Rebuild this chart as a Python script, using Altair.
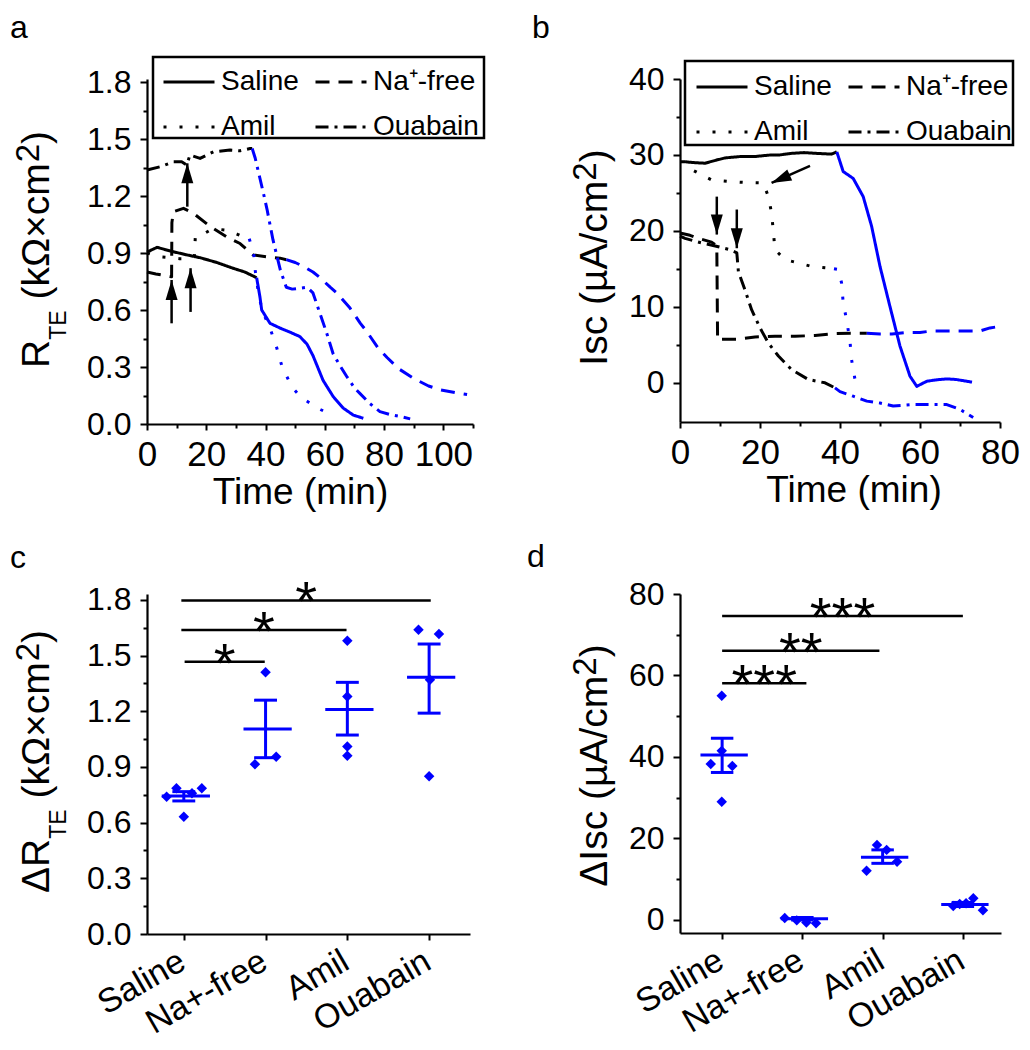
import json
import altair as alt
import pandas as pd

FONT = "Liberation Sans"
BLUE = "#0000FF"

CONDITIONS = ["Saline", "Na\u207a-free", "Amil", "Ouabain"]
CATEGORIES = ["Saline", "Na+-free", "Amil", "Ouabain"]
DASHES = [[1, 0], [14, 9], [3, 13], [13, 6, 3, 6]]

# ---------------- panel a : R_TE vs time ----------------
a_saline_t = [0, 3.4, 8, 13.5, 18, 23.6, 29, 33, 37, 38.1, 38.7, 41.5, 44.9, 48, 51.6, 54, 56, 59.4, 62.8, 66.2, 69.6, 73]
a_saline_v = [0.905, 0.93, 0.91, 0.89, 0.875, 0.85, 0.82, 0.80, 0.77, 0.67, 0.60, 0.53, 0.505, 0.485, 0.46, 0.42, 0.36, 0.23, 0.145, 0.084, 0.047, 0.03]
a_saline_switch = 37

a_na_t = [0, 3, 6.5, 8.3, 8.4, 8.9, 12.3, 15.6, 21.3, 26.9, 31.4, 35.8, 40.4, 44.9, 47, 50, 52.7, 56, 58.4, 61.8, 64, 68.5, 72, 74, 78, 81, 85, 90, 95, 99, 104, 108]
a_na_v = [0.80, 0.79, 0.78, 0.775, 1.06, 1.117, 1.135, 1.11, 1.04, 0.985, 0.95, 0.89, 0.88, 0.873, 0.865, 0.85, 0.83, 0.80, 0.77, 0.72, 0.69, 0.61, 0.53, 0.49, 0.40, 0.35, 0.29, 0.24, 0.20, 0.18, 0.165, 0.155]
a_na_switch = 47

a_amil_t = [0, 4.4, 8, 11, 14, 16.0, 16.3, 18.5, 21.3, 24, 26.9, 30.3, 33.6, 34.5, 36, 36.5, 37.5, 38.8, 41.5, 43.8, 45.6, 48.9, 52, 55, 58, 61]
a_amil_v = [0.90, 0.88, 0.875, 0.87, 0.87, 0.88, 0.985, 0.995, 1.02, 1.025, 1.02, 1.0, 0.977, 0.975, 0.90, 0.81, 0.70, 0.60, 0.505, 0.40, 0.30, 0.195, 0.14, 0.11, 0.08, 0.058]
a_amil_switch = 34.5

a_oua_t = [0, 4.4, 8.9, 11.7, 13.4, 14.5, 17.9, 22.4, 28, 31.4, 34.8, 35.5, 36.5, 38, 39.5, 40.5, 42.5, 45, 47, 49, 51.6, 54, 56, 58.4, 60.6, 62.8, 65, 67.4, 70, 71.9, 75, 78.6, 82, 85.4, 88.8]
a_oua_v = [1.337, 1.354, 1.38, 1.38, 1.363, 1.416, 1.398, 1.433, 1.442, 1.438, 1.45, 1.45, 1.40, 1.30, 1.20, 1.13, 0.97, 0.81, 0.72, 0.71, 0.715, 0.72, 0.69, 0.58, 0.48, 0.37, 0.31, 0.25, 0.19, 0.16, 0.11, 0.065, 0.05, 0.04, 0.027]
a_oua_switch = 35.5

a_arrow_t = [8.3, 14.7, 13.6]
a_arrow_tail = [0.53, 0.59, 1.144]
a_arrow_tip = [0.758, 0.82, 1.372]

# ---------------- panel b : Isc vs time ----------------
b_saline_t = [0, 1.25, 3, 6.25, 9, 11.25, 15.4, 19, 22.9, 25, 27.9, 31, 34, 37.9, 39.2, 40.8, 43.3, 45.8, 47.9, 50, 52.5, 55, 57.5, 59.2, 61.7, 64, 66.7, 69, 71.7, 73]
b_saline_v = [29.1, 29.1, 29.0, 28.9, 29.3, 29.6, 29.8, 29.8, 30.0, 30.0, 30.2, 30.3, 30.2, 30.1, 30.4, 27.8, 26.9, 24.5, 20.6, 15.3, 10.0, 4.8, 0.83, -0.5, 0.17, 0.35, 0.48, 0.4, 0.17, 0.05]
b_saline_switch = 39.2

b_na_t = [0, 2.5, 4.6, 7.9, 9.2, 9.4, 10, 14.2, 18.75, 23.75, 28.75, 33.75, 38.75, 43, 46.7, 50, 53, 57, 60, 63, 66, 70, 75, 77.5, 80]
b_na_v = [19.7, 19.4, 19.0, 18.5, 18.0, 5.6, 5.7, 5.7, 6.0, 6.1, 6.1, 6.2, 6.45, 6.5, 6.5, 6.4, 6.4, 6.6, 6.6, 6.8, 6.8, 6.8, 6.8, 7.2, 7.4]
b_na_switch = 46.7

b_amil_t = [3.5, 7.9, 12.1, 16.7, 20.8, 22.1, 22.9, 23.3, 23.75, 26.25, 29.6, 32.9, 36.7, 38.5, 39.6, 40.4, 40.8, 41.7, 42.5, 42.9, 43.75]
b_amil_v = [27.9, 26.7, 26.5, 26.35, 26.3, 24.5, 22.3, 20.1, 17.5, 16.2, 15.75, 15.3, 15.1, 15.0, 14.9, 13.1, 10.5, 8.1, 5.4, 3.0, 0.4]
b_amil_switch = 38.5

b_oua_t = [0, 1.25, 5.4, 9.6, 12.5, 14.2, 14.6, 16.25, 17.9, 20, 22.1, 24.6, 27.9, 32.1, 36.25, 38.75, 40, 43.3, 46.7, 50, 53.3, 58.3, 62.5, 66.7, 70, 73.3]
b_oua_v = [19.3, 19.0, 18.4, 17.9, 17.5, 17.1, 14.6, 12.2, 9.6, 7.2, 5.2, 3.5, 1.7, 0.4, -0.04, -0.7, -1.2, -1.8, -2.45, -2.7, -3.1, -2.9, -2.9, -2.9, -3.55, -4.6]
b_oua_switch = 38.75

b_down_t = [9.2, 14.2]
b_down_tail = [24.5, 22.8]
b_down_tip = [19.5, 17.7]
b_diag_tail_t, b_diag_tail_v = [32.5], [28.55]
b_diag_tip_t, b_diag_tip_v = [22.9], [26.3]

# ---------------- panel c : delta R_TE ----------------
c_pts_x = [0.79, 0.91, 1.0, 1.10, 1.22, 1.87, 2.0, 2.13, 3.0, 3.0, 3.0, 3.0, 3.87, 4.12, 4.01, 4.0]
c_pts_v = [0.74, 0.785, 0.632, 0.758, 0.785, 0.915, 1.41, 0.955, 1.58, 1.28, 1.01, 0.96, 1.64, 1.617, 1.37, 0.85]
c_mean = [0.743, 1.105, 1.21, 1.383]
c_lo = [0.717, 0.95, 1.072, 1.19]
c_hi = [0.767, 1.26, 1.356, 1.5625]
c_sig_x1 = [0.97, 0.97, 1.01]
c_sig_x2 = [4.02, 2.99, 1.99]
c_sig_y = [1.797, 1.638, 1.467]
c_sig_lab = ["*", "*", "*"]

# ---------------- panel d : delta Isc ----------------
d_pts_x = [0.995, 0.858, 1.127, 0.995, 0.995, 1.78, 1.93, 2.05, 2.17, 2.80, 2.93, 3.05, 3.18, 3.88, 3.96, 4.04, 4.13, 4.25]
d_pts_v = [55.05, 38.3, 37.8, 29.0, 41.5, 0.5, -0.1, -0.6, -0.8, 12.1, 18.4, 17.2, 14.3, 3.4, 3.9, 4.1, 5.3, 2.4]
d_mean = [40.5, 0.3, 15.4, 3.8]
d_lo = [36.2, 0.0, 13.9, 3.3]
d_hi = [44.6, 0.6, 17.2, 4.3]
d_sig_x1 = [1.0, 1.0, 1.0]
d_sig_x2 = [4.0, 2.96, 2.05]
d_sig_y = [74.6, 66.1, 58.1]
d_sig_lab = ["***", "**", "***"]

# ---------------- helpers ----------------
ARIAL = {'R': .722, 'Δ': .668, 'T': .611, 'E': .667, ' ': .278, '(': .333, 'k': .5,
         'Ω': .768, '×': .584, 'c': .5, 'm': .833, '2': .556, ')': .333, 'I': .278,
         's': .5, 'µ': .576, 'A': .667, '/': .278}


def text_width(s, fs):
    return sum(ARIAL.get(ch, 0.556) for ch in s) * fs


ONE = pd.DataFrame({"k": [0]})
AX = dict(domainColor="black", domainWidth=2.2, tickColor="black", tickWidth=2,
          labelColor="black", labelFont=FONT, grid=False, titleColor="black",
          labelFlush=False, labelOverlap=False)


def value_text(txt, x, y, size, angle=0, align="left"):
    return alt.Chart(ONE).mark_text(text=txt, font=FONT, fontSize=size, angle=angle,
                                    align=align, baseline="alphabetic", color="black"
                                    ).encode(x=alt.value(x), y=alt.value(y))


def y_title(pieces, center):
    total = sum(g + text_width(t, fs) for t, fs, bx, g in pieces)
    y = center + total / 2
    layers = []
    for t, fs, bx, g in pieces:
        y -= g
        layers.append(value_text(t, bx, y, fs, angle=270))
        y -= text_width(t, fs)
    return layers


def series_rows(cond, ts, vs, switch):
    rows = []
    for i, (t, v) in enumerate(zip(ts, vs)):
        if t <= switch:
            rows.append(dict(cond=cond, phase="pre", t=t, v=v, idx=i))
        if t >= switch:
            rows.append(dict(cond=cond, phase="post", t=t, v=v, idx=i))
    return rows


def minor_layer(xs, ys, xdom, ydom, xminor, yminor):
    axx = alt.Axis(values=xminor, orient="bottom", tickSize=4, labels=False, domain=False,
                   title=None, grid=False, tickColor="black", tickWidth=2) if xminor else None
    axy = alt.Axis(values=yminor, orient="left", tickSize=4, labels=False, domain=False,
                   title=None, grid=False, tickColor="black", tickWidth=2)
    df = pd.DataFrame({"x": [xdom[0]], "y": [ydom[0]]})
    return alt.Chart(df).mark_point(opacity=0).encode(
        x=alt.X("x:Q", scale=xs, axis=axx), y=alt.Y("y:Q", scale=ys, axis=axy))


def legend_box(x1, x2, y1, y2):
    return alt.Chart(ONE).mark_rect(fillOpacity=0, stroke="black", strokeWidth=2.5).encode(
        x=alt.value(x1), x2=alt.value(x2), y=alt.value(y1), y2=alt.value(y2))


ARROW_UP = "M0,-1L-0.6,1L0.6,1Z"
ARROW_DOWN = "M0,1L-0.6,-1L0.6,-1Z"


def time_panel(rows, xdom, ydom, w, h, xvals, xminor, yvals, yminor, yfmt, title_x,
               legend_y, box, extra_layers, title_layers, letter):
    xs = alt.Scale(domain=xdom, nice=False, zero=False)
    ys = alt.Scale(domain=ydom, nice=False, zero=False)
    df = pd.DataFrame(rows)
    lines = alt.Chart(df).mark_line(strokeWidth=3, strokeJoin="round").encode(
        x=alt.X("t:Q", scale=xs, axis=alt.Axis(values=xvals, orient="bottom", tickSize=6,
                                                labelPadding=7, labelFontSize=35,
                                                title="Time (min)", titleFont=FONT,
                                                titleFontSize=37, titleFontWeight="normal",
                                                titlePadding=2, titleX=title_x, **AX)),
        y=alt.Y("v:Q", scale=ys, axis=alt.Axis(values=yvals, orient="left", format=yfmt,
                                                tickSize=7, labelPadding=9, labelFontSize=32,
                                                title=None, **AX)),
        color=alt.Color("phase:N", scale=alt.Scale(domain=["pre", "post"], range=["#000000", BLUE]),
                        legend=None),
        strokeDash=alt.StrokeDash("cond:N", scale=alt.Scale(domain=CONDITIONS, range=DASHES),
                                  legend=alt.Legend(orient="none", legendX=15, legendY=legend_y,
                                                    columns=2, direction="horizontal",
                                                    title=None, symbolType="stroke",
                                                    symbolSize=2601, symbolStrokeWidth=3,
                                                    symbolStrokeColor="black", labelFont=FONT,
                                                    labelFontSize=28, labelColor="black",
                                                    padding=0, rowPadding=4, columnPadding=10,
                                                    labelOffset=5, labelLimit=400)),
        order=alt.Order("idx:Q"),
    )
    minor = minor_layer(xs, ys, xdom, ydom, xminor, yminor)
    extras = [f(xs, ys) for f in extra_layers]
    layers = [lines, minor] + extras + [legend_box(*box)] + title_layers + [letter]
    return alt.layer(*layers).properties(width=w, height=h).resolve_axis(x="independent", y="independent")


def up_arrows(ts, tails, tips):
    df = pd.DataFrame({"t": ts, "tail": tails, "tip": tips})

    def make(xs, ys):
        shaft = alt.Chart(df).mark_rule(strokeWidth=2.5, color="black").encode(
            x=alt.X("t:Q", scale=xs, axis=None), y=alt.Y("tail:Q", scale=ys, axis=None), y2="tip:Q")
        head = alt.Chart(df).mark_point(shape=ARROW_UP, filled=True, size=400, color="black",
                                        strokeWidth=0, opacity=1, yOffset=10).encode(
            x=alt.X("t:Q", scale=xs, axis=None), y=alt.Y("tip:Q", scale=ys, axis=None))
        return alt.layer(shaft, head)
    return make


def down_arrows(ts, tails, tips):
    df = pd.DataFrame({"t": ts, "tail": tails, "tip": tips})

    def make(xs, ys):
        shaft = alt.Chart(df).mark_rule(strokeWidth=2.5, color="black").encode(
            x=alt.X("t:Q", scale=xs, axis=None), y=alt.Y("tail:Q", scale=ys, axis=None), y2="tip:Q")
        head = alt.Chart(df).mark_point(shape=ARROW_DOWN, filled=True, size=400, color="black",
                                        strokeWidth=0, opacity=1, yOffset=-10).encode(
            x=alt.X("t:Q", scale=xs, axis=None), y=alt.Y("tip:Q", scale=ys, axis=None))
        return alt.layer(shaft, head)
    return make


def diag_arrow(tt, tv, pt, pv):
    df = pd.DataFrame({"tt": tt, "tv": tv, "pt": pt, "pv": pv})

    def make(xs, ys):
        shaft = alt.Chart(df).mark_rule(strokeWidth=2.5, color="black").encode(
            x=alt.X("tt:Q", scale=xs, axis=None), x2="pt:Q",
            y=alt.Y("tv:Q", scale=ys, axis=None), y2="pv:Q")
        head = alt.Chart(df).mark_point(shape=ARROW_UP, filled=True, size=400, color="black",
                                        strokeWidth=0, opacity=1, angle=246, xOffset=9,
                                        yOffset=-4).encode(
            x=alt.X("pt:Q", scale=xs, axis=None), y=alt.Y("pv:Q", scale=ys, axis=None))
        return alt.layer(shaft, head)
    return make


def cat_panel(pts_x, pts_v, mean, lo, hi, sx1, sx2, sy, slab, xdom, ydom, w, h,
              yvals, yminor, yfmt, title_layers, letter):
    xs = alt.Scale(domain=xdom, nice=False, zero=False)
    ys = alt.Scale(domain=ydom, nice=False, zero=False)
    cats = list(range(1, len(CATEGORIES) + 1))
    pts = pd.DataFrame({"x": pts_x, "v": pts_v})
    st = pd.DataFrame({"cat": cats, "mean": mean, "lo": lo, "hi": hi})
    st["m1"] = st["cat"] - 0.27
    st["m2"] = st["cat"] + 0.32
    caps = pd.DataFrame({"c1": [c - 0.14 for c in cats] * 2, "c2": [c + 0.14 for c in cats] * 2,
                         "y": list(hi) + list(lo)})
    sig = pd.DataFrame({"x1": sx1, "x2": sx2, "y": sy, "lab": slab})
    sig["xm"] = (sig["x1"] + sig["x2"]) / 2
    label_expr = json.dumps(CATEGORIES) + "[datum.value - 1]"
    points = alt.Chart(pts).mark_point(shape="diamond", filled=True, size=110, color=BLUE,
                                       opacity=1).encode(
        x=alt.X("x:Q", scale=xs, axis=alt.Axis(values=cats, orient="bottom", labelExpr=label_expr,
                                                labelAngle=330, labelAlign="right",
                                                labelBaseline="top", labelOffset=-10,
                                                labelPadding=4, labelFontSize=34, tickSize=6,
                                                title=None, labelBound=False, **AX)),
        y=alt.Y("v:Q", scale=ys, axis=alt.Axis(values=yvals, orient="left", format=yfmt,
                                                tickSize=7, labelPadding=9, labelFontSize=32,
                                                title=None, **AX)),
    )
    ebar = alt.Chart(st).mark_rule(strokeWidth=3, color=BLUE).encode(
        x=alt.X("cat:Q", scale=xs, axis=None), y=alt.Y("lo:Q", scale=ys, axis=None), y2="hi:Q")
    mline = alt.Chart(st).mark_rule(strokeWidth=3, color=BLUE).encode(
        x=alt.X("m1:Q", scale=xs, axis=None), x2="m2:Q", y=alt.Y("mean:Q", scale=ys, axis=None))
    cap = alt.Chart(caps).mark_rule(strokeWidth=3, color=BLUE).encode(
        x=alt.X("c1:Q", scale=xs, axis=None), x2="c2:Q", y=alt.Y("y:Q", scale=ys, axis=None))
    srule = alt.Chart(sig).mark_rule(strokeWidth=2.5, color="black").encode(
        x=alt.X("x1:Q", scale=xs, axis=None), x2="x2:Q", y=alt.Y("y:Q", scale=ys, axis=None))
    stars = alt.Chart(sig).mark_text(font=FONT, fontSize=56, dy=20, color="black", align="center",
                                     baseline="alphabetic").encode(
        x=alt.X("xm:Q", scale=xs, axis=None), y=alt.Y("y:Q", scale=ys, axis=None), text="lab:N")
    minor = minor_layer(xs, ys, xdom, ydom, None, yminor)
    layers = [points, minor, ebar, mline, cap, srule, stars] + title_layers + [letter]
    return alt.layer(*layers).properties(width=w, height=h).resolve_axis(x="independent", y="independent")


# ---------------- build panels ----------------
rows_a = (series_rows(CONDITIONS[0], a_saline_t, a_saline_v, a_saline_switch)
          + series_rows(CONDITIONS[1], a_na_t, a_na_v, a_na_switch)
          + series_rows(CONDITIONS[2], a_amil_t, a_amil_v, a_amil_switch)
          + series_rows(CONDITIONS[3], a_oua_t, a_oua_v, a_oua_switch))
rows_b = (series_rows(CONDITIONS[0], b_saline_t, b_saline_v, b_saline_switch)
          + series_rows(CONDITIONS[1], b_na_t, b_na_v, b_na_switch)
          + series_rows(CONDITIONS[2], b_amil_t, b_amil_v, b_amil_switch)
          + series_rows(CONDITIONS[3], b_oua_t, b_oua_v, b_oua_switch))

FM, FSUB, FSUP = 39, 23, 33
SP = text_width(" ", FM)
title_a = y_title([("R", FM, -98, 0), ("TE", FSUB, -81, 0), ("(kΩ×cm", FM, -98, SP),
                   ("2", FSUP, -108, 0), (")", FM, -98, 0)], 170.5)
title_b = y_title([("Isc", FM, -73, 0), ("(µA/cm", FM, -73, SP), ("2", FSUP, -84, 0),
                   (")", FM, -73, 0)], 178.5)
title_c = y_title([("ΔR", FM, -98, 0), ("TE", FSUB, -81, 0), ("(kΩ×cm", FM, -98, SP),
                   ("2", FSUP, -108, 0), (")", FM, -98, 0)], 167.5)
title_d = y_title([("ΔIsc", FM, -73, 0), ("(µA/cm", FM, -73, SP), ("2", FSUP, -84, 0),
                   (")", FM, -73, 0)], 171.5)

panel_a = time_panel(rows_a, [0, 110], [0, 1.816], 326, 345, [0, 20, 40, 60, 80, 100],
                     [10, 30, 50, 70, 90, 110], [0, 0.3, 0.6, 0.9, 1.2, 1.5, 1.8],
                     [0.15, 0.45, 0.75, 1.05, 1.35, 1.65], ".1f", 153, -24,
                     (6, 337, -22, 59), [up_arrows(a_arrow_t, a_arrow_tail, a_arrow_tip)],
                     title_a, value_text("a", -137, -41, 32))
panel_b = time_panel(rows_b, [0, 80], [-5.2, 40], 320, 343, [0, 20, 40, 60, 80],
                     [10, 30, 50, 70], [0, 10, 20, 30, 40], [5, 15, 25, 35], "d", 173.5, -19,
                     (5, 333, -18, 66),
                     [down_arrows(b_down_t, b_down_tail, b_down_tip),
                      diag_arrow(b_diag_tail_t, b_diag_tail_v, b_diag_tip_t, b_diag_tip_v)],
                     title_b, value_text("b", -148, -41, 32))
panel_c = cat_panel(c_pts_x, c_pts_v, c_mean, c_lo, c_hi, c_sig_x1, c_sig_x2, c_sig_y, c_sig_lab,
                    [0.55, 4.5], [0, 1.832], 323, 340, [0, 0.3, 0.6, 0.9, 1.2, 1.5, 1.8],
                    [0.15, 0.45, 0.75, 1.05, 1.35, 1.65], ".1f", title_c,
                    value_text("c", -137, -26, 32))
panel_d = cat_panel(d_pts_x, d_pts_v, d_mean, d_lo, d_hi, d_sig_x1, d_sig_x2, d_sig_y, d_sig_lab,
                    [0.475, 4.475], [-3.2, 80], 321, 339, [0, 20, 40, 60, 80],
                    [10, 30, 50, 70], "d", title_d, value_text("d", -153, -27, 32))

chart = alt.concat(panel_a, panel_b, panel_c, panel_d, columns=2,
                   spacing={"row": 170, "column": 207}, bounds="flush",
                   padding={"left": 2, "top": 4, "right": 0, "bottom": 0}
                   ).resolve_scale(color="independent", strokeDash="independent"
                   ).configure(font=FONT).configure_view(strokeWidth=0)

chart.save("out.html", embed_options={"renderer": "svg", "actions": False})
